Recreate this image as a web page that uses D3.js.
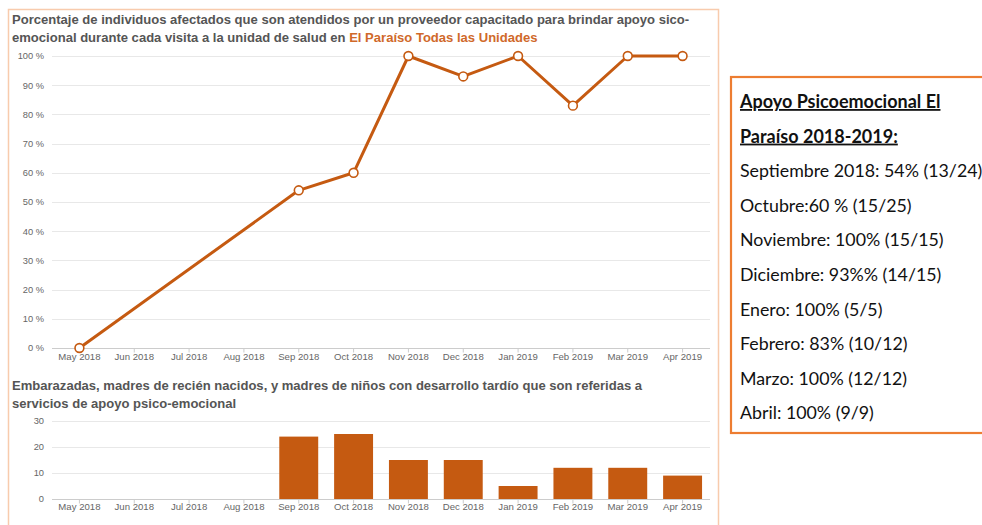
<!DOCTYPE html>
<html>
<head>
<meta charset="utf-8">
<script src="https://cdn.jsdelivr.net/npm/d3@7/dist/d3.min.js"></script>
<style>
  html, body { margin: 0; padding: 0; background: #fff; }
  svg { display: block; }
</style>
</head>
<body>
<svg id="chart" width="982" height="525"></svg>
<script>
// ---------- DATA ----------
const months = ["May 2018","Jun 2018","Jul 2018","Aug 2018","Sep 2018","Oct 2018",
                "Nov 2018","Dec 2018","Jan 2019","Feb 2019","Mar 2019","Apr 2019"];
const pctValues = [0, null, null, null, 54, 60, 100, 93, 100, 83, 100, 100];
const referralValues = [null, null, null, null, 24, 25, 15, 15, 5, 12, 12, 9];
const pctTicks = [0,10,20,30,40,50,60,70,80,90,100];
const refTicks = [0,10,20,30];

const topTitle1 = "Porcentaje de individuos afectados que son atendidos por un proveedor capacitado para brindar apoyo sico-";
const topTitle2a = "emocional durante cada visita a la unidad de salud en ";
const topTitle2b = "El Paraíso Todas las Unidades";
const botTitle1 = "Embarazadas, madres de recién nacidos, y madres de niños con desarrollo tardío que son referidas a";
const botTitle2 = "servicios de apoyo psico-emocional";

const boxHeading = ["Apoyo Psicoemocional El", "Paraíso 2018-2019:"];
const boxLines = [
  "Septiembre 2018: 54% (13/24)",
  "Octubre:60 % (15/25)",
  "Noviembre: 100% (15/15)",
  "Diciembre: 93%% (14/15)",
  "Enero: 100% (5/5)",
  "Febrero: 83% (10/12)",
  "Marzo: 100% (12/12)",
  "Abril: 100% (9/9)"
];

// ---------- STYLE ----------
const dark = "#c55a11";
const titleColor = "#555";
const tickColor = "#666";
const gridColor = "#e8e8e8";
const chartFont = "'Liberation Sans', Arial, sans-serif";

const svg = d3.select("#chart");

// Left panel border
svg.append("rect").attr("x", 8.5).attr("y", 9.5).attr("width", 710).attr("height", 530)
  .attr("fill", "none").attr("stroke", "#f8cbad").attr("stroke-width", 1.5);

// Shared x band scale
const x = d3.scaleBand().domain(months).range([52, 710]).paddingInner(0.29).paddingOuter(0.145);
const cx = m => x(m) + x.bandwidth() / 2;

// title font size fitted so the first title line spans the panel as in the reference
let titleSize = 11.6;
{
  const probe = svg.append("text").attr("font-family", chartFont).attr("font-size", 12)
    .attr("font-weight", "bold").text(topTitle1);
  const w = probe.node().getComputedTextLength();
  probe.remove();
  if (w > 0) titleSize = 12 * 678 / w;
}

function drawTitle(lines, y0) {
  lines.forEach((ln, i) => {
    const t = svg.append("text").attr("x", 12).attr("y", y0 + i * 18)
      .attr("font-family", chartFont).attr("font-size", titleSize).attr("font-weight", "bold")
      .attr("fill", titleColor);
    ln.forEach(seg => t.append("tspan").text(seg.t).attr("fill", seg.c || titleColor));
  });
}

function drawAxes(y, ticks, fmt, baseY, labelOffset) {
  const g = svg.append("g");
  g.selectAll("line.grid").data(ticks).join("line")
    .attr("x1", 52).attr("x2", 710)
    .attr("y1", d => Math.round(y(d)) + 0.5).attr("y2", d => Math.round(y(d)) + 0.5)
    .attr("stroke", d => d === 0 ? "#ccc" : gridColor).attr("stroke-width", 1);
  g.selectAll("text.yl").data(ticks).join("text")
    .attr("x", 44).attr("y", d => y(d) + 3.3)
    .attr("text-anchor", "end").attr("font-family", chartFont).attr("font-size", 9.3)
    .attr("fill", tickColor).text(fmt);
  const xa = d3.axisBottom(x).tickSize(4).tickSizeOuter(0);
  const ag = svg.append("g").attr("transform", `translate(0,${Math.round(baseY) + 0.5})`).call(xa);
  ag.select(".domain").remove();
  ag.selectAll(".tick line").attr("stroke", "#ccc");
  ag.selectAll(".tick text").attr("font-family", chartFont).attr("font-size", 9.6)
    .attr("fill", tickColor).attr("dy", "0.3em").attr("y", labelOffset);
}

// ---------- TOP CHART ----------
drawTitle([[{t: topTitle1}], [{t: topTitle2a}, {t: topTitle2b, c: "#d0692a"}]], 24);
const yTop = d3.scaleLinear().domain([0, 100]).range([348, 56]);
drawAxes(yTop, pctTicks, d => d + " %", 348, 9);

const pts = months.map((m, i) => ({m, v: pctValues[i]})).filter(d => d.v != null);
svg.append("path").datum(pts)
  .attr("d", d3.line().x(d => cx(d.m)).y(d => yTop(d.v)))
  .attr("fill", "none").attr("stroke", dark).attr("stroke-width", 3).attr("stroke-linejoin", "round");
svg.selectAll("circle.pt").data(pts).join("circle")
  .attr("cx", d => cx(d.m)).attr("cy", d => yTop(d.v)).attr("r", 4.4)
  .attr("fill", "#fff").attr("stroke", dark).attr("stroke-width", 1.6);

// ---------- BOTTOM CHART ----------
drawTitle([[{t: botTitle1}], [{t: botTitle2}]], 390);
const yBot = d3.scaleLinear().domain([0, 30]).range([499, 421]);
drawAxes(yBot, refTicks, d => d, 499, 8);
const bars = months.map((m, i) => ({m, v: referralValues[i]})).filter(d => d.v != null);
svg.selectAll("rect.bar").data(bars).join("rect")
  .attr("x", d => x(d.m)).attr("width", x.bandwidth())
  .attr("y", d => yBot(d.v)).attr("height", d => yBot(0) - yBot(d.v))
  .attr("fill", dark);

// ---------- RIGHT TEXT BOX ----------
svg.append("rect").attr("x", 731).attr("y", 77).attr("width", 270).attr("height", 356)
  .attr("fill", "#fff").attr("stroke", "#ed7d31").attr("stroke-width", 2.2);
const boxFont = "Lato, 'Open Sans', sans-serif";
const lineStep = 34.6;
boxHeading.forEach((t, i) => {
  svg.append("text").attr("x", 740).attr("y", 108 + i * lineStep)
    .attr("font-family", boxFont).attr("font-size", 18).attr("font-weight", "bold")
    .attr("text-decoration", "underline").attr("fill", "#111").text(t);
});
boxLines.forEach((t, i) => {
  svg.append("text").attr("x", 740).attr("y", 108 + (i + 2) * lineStep)
    .attr("font-family", boxFont).attr("font-size", 17.8)
    .attr("fill", "#111").text(t);
});
</script>
</body>
</html>
